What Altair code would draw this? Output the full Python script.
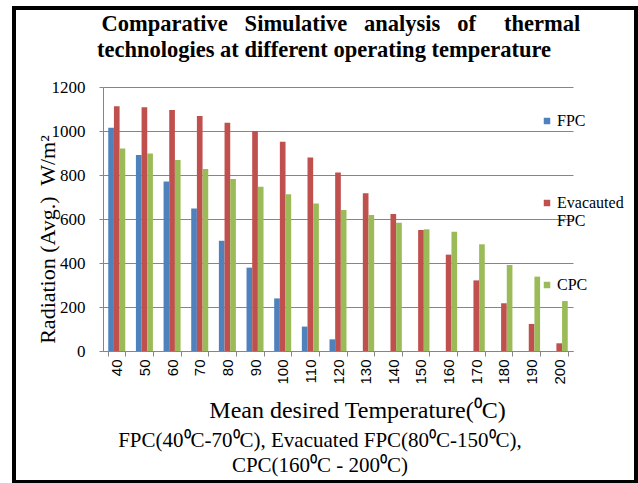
import altair as alt
import pandas as pd

temps = ["40", "50", "60", "70", "80", "90", "100", "110", "120", "130",
         "140", "150", "160", "170", "180", "190", "200"]
series = ["FPC", "Evacauted FPC", "CPC"]
fpc = [1015, 891, 770, 648, 501, 379, 239, 111, 53, 0, 0, 0, 0, 0, 0, 0, 0]
evac = [1113, 1108, 1095, 1068, 1038, 1000, 951, 880, 811, 717, 623, 550, 438, 321, 217, 123, 35]
cpc = [921, 898, 868, 827, 782, 747, 712, 671, 641, 618, 583, 553, 542, 485, 391, 338, 227]
colors = ["#4F81BD", "#C0504D", "#9BBB59"]

nb = "\u00a0"
title_lines = ["\u200b" + nb * 6 + "Comparative" + nb * 2 + " Simulative" + nb * 2 + " analysis" + nb * 2
               + " of" + nb * 4 + " thermal",
               "technologies at different operating temperature"]
x_title = "Mean desired Temperature(\u2070C)"
y_title = "Radiation (Avg.)\u00a0 W/m\u00b2"
footnote_lines = ["FPC(40\u2070C-70\u2070C), Evacuated FPC(80\u2070C-150\u2070C),",
                  "CPC(160\u2070C - 200\u2070C)"]

rows = []
for name, vals in zip(series, [fpc, evac, cpc]):
    for t, v in zip(temps, vals):
        rows.append({"temp": t, "series": name, "value": v})
df = pd.DataFrame(rows)

serif = "Liberation Serif"

bars = alt.Chart(df).mark_bar().encode(
    x=alt.X("temp:N", sort=temps,
            scale=alt.Scale(paddingInner=0.385, paddingOuter=0.19),
            axis=alt.Axis(title=x_title, labelAngle=-90, labelAlign="right",
                          labelBaseline="middle", labelFont="Liberation Sans",
                          labelFontSize=15, labelColor="black", labelPadding=3,
                          tickBand="extent", tickSize=5, tickColor="#868686",
                          domainColor="#868686", grid=False,
                          titleFont=serif, titleFontSize=24, titleFontWeight="normal",
                          titleColor="black", titleX=254, titleY=59,
                          titleBaseline="middle", titleAlign="center")),
    xOffset=alt.XOffset("series:N", sort=series),
    y=alt.Y("value:Q", scale=alt.Scale(domain=[0, 1200]),
            axis=alt.Axis(title=y_title, values=[0, 200, 400, 600, 800, 1000, 1200],
                          format="d",
                          labelFont=serif, labelFontSize=17, labelColor="black",
                          labelPadding=14, tickSize=4, tickColor="#868686",
                          domainColor="#868686", gridColor="#868686",
                          titleFont=serif, titleFontSize=22, titleFontWeight="normal",
                          titleColor="black", titleAngle=-90, titleX=-56, titleY=152,
                          titleAlign="center", titleBaseline="middle")),
    color=alt.Color("series:N", sort=series,
                    scale=alt.Scale(domain=series, range=colors),
                    legend=alt.Legend(title=None, orient="none", legendX=436, legendY=26,
                                      symbolType="square", symbolSize=42,
                                      symbolStrokeWidth=0, labelFont=serif,
                                      labelFontSize=16, labelColor="black",
                                      labelOffset=2, rowPadding=48, padding=0,
                                      gridAlign="all",
                                      labelExpr="datum.label == 'Evacauted FPC' ? ['Evacauted', 'FPC'] : datum.label")),
)

foot = alt.Chart(alt.Data(values=[{"t": "\n".join(footnote_lines)}])).mark_text(
    font=serif, fontSize=21, align="center", baseline="top", lineBreak="\n",
    lineHeight=25, color="black"
).encode(x=alt.value(217), y=alt.value(343), text="t:N")

frame = alt.Chart(alt.Data(values=[{"a": 1}])).mark_rect(
    fillOpacity=0, stroke="black", strokeWidth=4
).encode(x=alt.value(-89), x2=alt.value(533), y=alt.value(-79), y2=alt.value(395))

chart = alt.layer(bars, foot, frame).properties(
    width=470, height=264,
    autosize=alt.AutoSizeParams(type="none"),
    padding={"left": 103, "top": 87, "right": 65, "bottom": 132},
    title=alt.TitleParams(text=title_lines, font=serif, fontSize=22.5, fontWeight="bold",
                          anchor="middle", frame="group", offset=-55, lineHeight=26,
                          dx=-14, color="black"),
    background="white",
).configure_view(stroke=None)

chart.save("out.html", embed_options={"renderer": "svg", "actions": False})
